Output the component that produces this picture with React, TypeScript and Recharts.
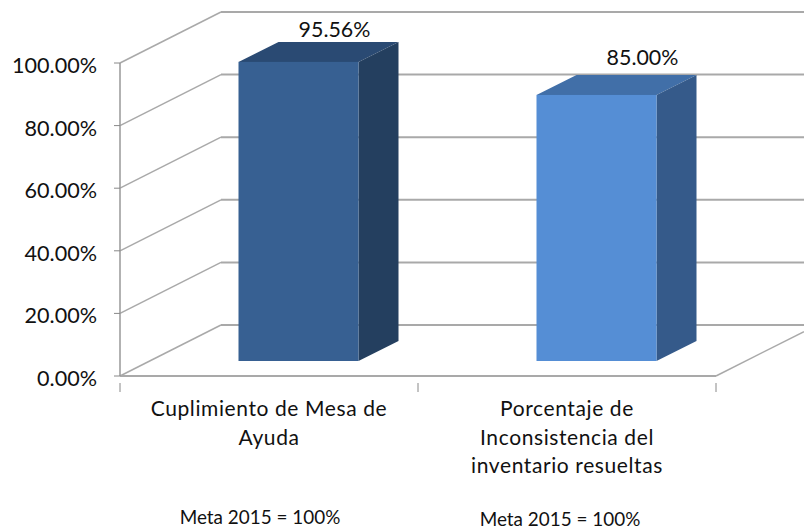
import React from "react";
import { BarChart, Bar, XAxis, YAxis, CartesianGrid, LabelList } from "recharts";

const categories = ["Cuplimiento de Mesa de\nAyuda", "Porcentaje de\nInconsistencia del\ninventario resueltas"];
const values = [95.56, 85.0];
const metaLabels = ["Meta 2015 = 100%", "Meta 2015 = 100%"];
const yTicks = [0, 20, 40, 60, 80, 100];

const frontColors = ["#376092", "#558ed5"];
const topColors = ["#2a4a73", "#416fa8"];
const sideColors = ["#243f5f", "#355a8a"];

const W = 804, H = 529;
const M = { top: 63, right: 88, left: 0, bottom: 0 };
const AXIS_W = 120, AXIS_H = 153;
const PLOT_W = W - M.right - AXIS_W;
const BAND = PLOT_W / categories.length;
const WALL_DX = 101, WALL_DY = 51;
const BAR_DX = 29.5, BAR_DY = 15;
const DEPTH_X = 40, DEPTH_Y = 20;
const FONT = "Lato, Carlito, sans-serif";
const GRID = "#a9a9a9";
const labelShift = [36, 46];
const labelRise = [25, 30];
const metaDx = [-9, -7];
const metaY = [524, 526];

const data = categories.map((name, i) => ({ name, value: values[i] }));

const gridLine = (p: any) => {
  const { x1, x2, y1, index } = p;
  const isFloor = y1 >= M.top + (H - AXIS_H - M.top) - 1;
  return (
    <g key={`grid-${index}`}>
      <line x1={x1 + WALL_DX} x2={W} y1={y1 - WALL_DY} y2={y1 - WALL_DY} stroke={GRID} strokeWidth={2} />
      <line x1={x1} x2={x1 + WALL_DX} y1={y1} y2={y1 - WALL_DY} stroke={GRID} strokeWidth={1.5} />
      {isFloor && <line x1={x2} x2={W} y1={y1} y2={y1 - ((W - x2) * WALL_DY) / WALL_DX} stroke={GRID} strokeWidth={1.5} />}
      {isFloor && <line x1={x1} x2={x2} y1={y1} y2={y1} stroke={GRID} strokeWidth={2} />}
    </g>
  );
};

const Box3D = (p: any) => {
  const { x, y, width, height, index } = p;
  const l = x + BAR_DX, t = y - BAR_DY, r = l + width, b = t + height;
  return (
    <g>
      <polygon points={`${l},${t} ${l + DEPTH_X},${t - DEPTH_Y} ${r + DEPTH_X},${t - DEPTH_Y} ${r},${t}`} fill={topColors[index]} />
      <polygon points={`${r},${t} ${r + DEPTH_X},${t - DEPTH_Y} ${r + DEPTH_X},${b - DEPTH_Y} ${r},${b}`} fill={sideColors[index]} />
      <rect x={l} y={t} width={width} height={height} fill={frontColors[index]} />
    </g>
  );
};

const ValueLabel = (p: any) => {
  const { x, y, width, value, index } = p;
  return (
    <text x={x + BAR_DX + width / 2 + labelShift[index]} y={y - BAR_DY - labelRise[index]} textAnchor="middle" fontFamily={FONT} fontSize={21.4} fill="#111">
      {Number(value).toFixed(2)}%
    </text>
  );
};

const CategoryTick = (p: any) => {
  const { x, y, payload, index } = p;
  const lines = String(payload.value).split("\n");
  const left = x - BAND / 2, right = x + BAND / 2;
  return (
    <g>
      <line x1={left} x2={left} y1={y - 1} y2={y + 8} stroke="#888" />
      {index === categories.length - 1 && <line x1={right} x2={right} y1={y - 1} y2={y + 8} stroke="#888" />}
      {lines.map((t, i) => (
        <text key={i} x={x} y={y + 32 + i * 28.5} textAnchor="middle" fontFamily={FONT} fontSize={21} letterSpacing={0.6} fill="#111">{t}</text>
      ))}
      <text x={x + metaDx[index]} y={metaY[index]} textAnchor="middle" fontFamily={FONT} fontSize={18.9} fill="#111">{metaLabels[index]}</text>
    </g>
  );
};

const ValueTick = (p: any) => {
  const { x, y, payload } = p;
  return (
    <text x={x} y={y + 10} textAnchor="end" fontFamily={FONT} fontSize={21.6} fill="#111">
      {`${Number(payload.value).toFixed(2)}%`}
    </text>
  );
};

export default function App() {
  return (
    <div style={{ position: "absolute", left: 0, top: 0, width: W, height: H }}>
      <BarChart width={W} height={H} data={data} margin={M} barSize={120}>
        <CartesianGrid horizontal={gridLine as any} vertical={false} stroke={GRID} />
        <XAxis dataKey="name" height={AXIS_H} interval={0} axisLine={false} tickLine={false} tick={CategoryTick as any} />
        <YAxis
          width={AXIS_W}
          domain={[0, 100]}
          ticks={yTicks}
          interval={0}
          tick={ValueTick as any}
          axisLine={{ stroke: "#999", strokeWidth: 1.5 }}
          tickLine={{ stroke: "#888" }}
          tickSize={6}
          tickMargin={17}
        />
        <Bar dataKey="value" isAnimationActive={false} shape={Box3D as any}>
          <LabelList dataKey="value" content={ValueLabel as any} />
        </Bar>
      </BarChart>
    </div>
  );
}
